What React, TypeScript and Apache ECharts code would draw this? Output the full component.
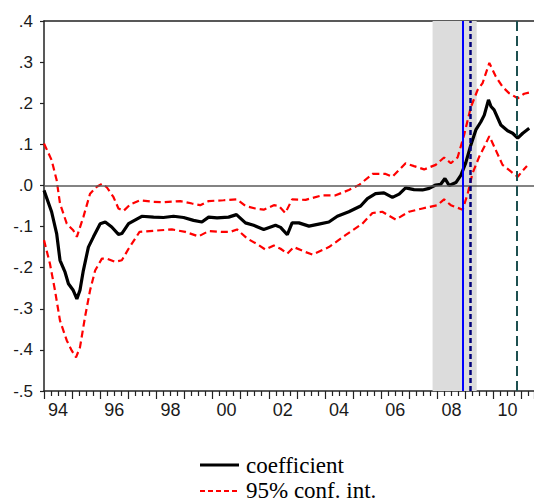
import React, { useEffect, useRef } from 'react';
import * as echarts from 'echarts';

// Decimal-year positions and values
const coefYears = [1994.00,1994.27,1994.45,1994.57,1994.75,1994.87,1995.04,1995.17,1995.28,1995.40,1995.58,1995.76,1996.00,1996.18,1996.41,1996.65,1996.77,1997.01,1997.48,1997.90,1998.25,1998.61,1998.97,1999.32,1999.62,1999.86,2000.16,2000.57,2000.85,2001.17,2001.46,2001.82,2002.24,2002.42,2002.66,2002.83,2003.07,2003.43,2003.78,2004.14,2004.44,2004.85,2005.27,2005.51,2005.80,2006.10,2006.40,2006.64,2006.87,2007.17,2007.47,2007.71,2007.94,2008.12,2008.27,2008.42,2008.66,2008.84,2009.01,2009.19,2009.37,2009.55,2009.67,2009.82,2009.91,2010.02,2010.26,2010.50,2010.68,2010.86,2011.04,2011.27];
const coefValues = [-0.012,-0.064,-0.117,-0.182,-0.211,-0.239,-0.255,-0.276,-0.255,-0.207,-0.150,-0.125,-0.093,-0.089,-0.101,-0.119,-0.117,-0.093,-0.075,-0.077,-0.078,-0.075,-0.078,-0.085,-0.089,-0.077,-0.079,-0.077,-0.071,-0.091,-0.097,-0.107,-0.097,-0.102,-0.120,-0.091,-0.091,-0.099,-0.094,-0.089,-0.075,-0.064,-0.050,-0.032,-0.020,-0.018,-0.029,-0.021,-0.006,-0.010,-0.011,-0.007,0.001,0.003,0.017,0.000,0.007,0.025,0.055,0.098,0.135,0.155,0.171,0.208,0.192,0.184,0.147,0.133,0.127,0.115,0.127,0.139];

const upperYears = [1994.00,1994.27,1994.45,1994.57,1994.81,1995.04,1995.17,1995.40,1995.64,1995.88,1996.07,1996.24,1996.47,1996.65,1996.83,1997.07,1997.42,1997.90,1998.25,1998.85,1999.27,1999.56,1999.86,2000.39,2000.87,2001.17,2001.52,2001.82,2002.18,2002.36,2002.59,2002.83,2003.31,2003.90,2004.38,2004.85,2005.21,2005.69,2006.16,2006.40,2006.87,2007.17,2007.53,2007.94,2008.24,2008.48,2008.72,2008.95,2009.19,2009.43,2009.61,2009.85,2010.08,2010.32,2010.56,2010.86,2011.09,2011.27];
const upperValues = [0.102,0.062,0.013,-0.044,-0.093,-0.109,-0.125,-0.077,-0.020,-0.003,0.004,-0.005,-0.028,-0.056,-0.062,-0.046,-0.036,-0.040,-0.041,-0.038,-0.044,-0.048,-0.038,-0.036,-0.034,-0.050,-0.056,-0.059,-0.048,-0.050,-0.067,-0.034,-0.035,-0.024,-0.024,-0.011,0.001,0.028,0.028,0.021,0.054,0.047,0.039,0.050,0.068,0.054,0.068,0.122,0.190,0.232,0.249,0.298,0.265,0.240,0.224,0.212,0.223,0.226];

const lowerYears = [1994.00,1994.21,1994.39,1994.57,1994.81,1994.99,1995.14,1995.28,1995.46,1995.64,1995.82,1996.06,1996.24,1996.53,1996.77,1997.01,1997.40,1998.14,1998.55,1999.03,1999.50,1999.86,2000.34,2000.63,2000.87,2001.23,2001.59,2001.88,2002.18,2002.42,2002.66,2002.89,2003.31,2003.55,2004.14,2004.73,2005.33,2005.69,2006.04,2006.52,2006.99,2007.47,2008.00,2008.24,2008.48,2008.90,2009.08,2009.25,2009.49,2009.67,2009.85,2010.08,2010.32,2010.56,2010.86,2011.04,2011.19];
const lowerValues = [-0.133,-0.190,-0.255,-0.329,-0.377,-0.402,-0.418,-0.394,-0.320,-0.255,-0.207,-0.178,-0.178,-0.186,-0.182,-0.154,-0.113,-0.109,-0.107,-0.113,-0.124,-0.111,-0.113,-0.113,-0.107,-0.129,-0.143,-0.156,-0.146,-0.154,-0.166,-0.150,-0.162,-0.168,-0.150,-0.121,-0.093,-0.067,-0.064,-0.083,-0.064,-0.056,-0.048,-0.034,-0.048,-0.059,-0.020,0.029,0.070,0.094,0.120,0.086,0.050,0.037,0.021,0.036,0.047];

// Axis labels: two-digit years, centred within each labelled year
const labelYears = [1994, 1996, 1998, 2000, 2002, 2004, 2006, 2008, 2010];
const labelTexts = ['94', '96', '98', '00', '02', '04', '06', '08', '10'];

// Shaded period and reference dates
const shadeStart = 2007.83;
const shadeEnd = 2009.40;
const eventSolid = 2008.91;
const eventDashed = 2009.16;
const eventLongDash = 2010.83;

const legendNames = ['coefficient', '95% conf. int.'];

const zip = (xs: number[], ys: number[]) => xs.map((x, i) => [x, ys[i]]);

const RED = '#ff0000';
const RED_DASH = [7, 4];
const SERIF = "'Liberation Serif', 'Times New Roman', Times, 'DejaVu Serif', serif";
const SANS = "'Liberation Sans', Arial, Helvetica, sans-serif";

export default function App() {
  const ref = useRef<HTMLDivElement>(null);
  useEffect(() => {
    const chart = echarts.init(ref.current!, null, { renderer: 'svg' });
    const xMin = 1994;
    const xMax = 2011.44;
    const legendFont = { font: `23px ${SERIF}`, fontFamily: SERIF, fontSize: 23, fill: '#000' };
    chart.setOption({
      animation: false,
      grid: { left: 44, right: 0, top: 21, bottom: 111, containLabel: false, outerBoundsMode: 'none' },
      graphic: [
        {
          type: 'line',
          shape: { x1: 200, y1: 465, x2: 239, y2: 465 },
          style: { stroke: '#000', lineWidth: 3 },
          silent: true,
        },
        {
          type: 'text',
          x: 246,
          y: 465,
          style: { text: legendNames[0], ...legendFont, verticalAlign: 'middle', align: 'left' },
          silent: true,
        },
        {
          type: 'line',
          shape: { x1: 200, y1: 491, x2: 239, y2: 491 },
          style: { stroke: RED, lineWidth: 2.2, lineDash: [5, 3] },
          silent: true,
        },
        {
          type: 'text',
          x: 246,
          y: 490,
          style: { text: legendNames[1], ...legendFont, verticalAlign: 'middle', align: 'left' },
          silent: true,
        },
      ],
      xAxis: [
        {
          type: 'value',
          min: xMin,
          max: xMax,
          interval: 1,
          axisLine: { show: true, onZero: false, lineStyle: { color: '#222', width: 1.5 } },
          axisTick: { show: true, length: 8, lineStyle: { color: '#222', width: 1.2 } },
          minorTick: { show: true, splitNumber: 4, length: 5, lineStyle: { color: '#222', width: 1.2 } },
          splitLine: { show: false },
          minorSplitLine: { show: false },
          axisLabel: {
            customValues: labelYears.map((y) => y + 0.5),
            formatter: (v: number) => labelTexts[labelYears.indexOf(Math.floor(v))] ?? '',
            fontFamily: SANS,
            fontSize: 18,
            color: '#1a1a1a',
            margin: 10,
          },
        },
        {
          type: 'value',
          position: 'top',
          min: xMin,
          max: xMax,
          interval: 1,
          axisLine: { show: true, onZero: false, lineStyle: { color: '#222', width: 1.5 } },
          axisTick: { show: false },
          axisLabel: { show: false },
          splitLine: { show: false },
        },
      ],
      yAxis: {
        type: 'value',
        min: -0.5,
        max: 0.4,
        interval: 0.1,
        axisLine: { show: true, onZero: false, lineStyle: { color: '#222', width: 1.5 } },
        axisTick: { show: true, length: 4, lineStyle: { color: '#222', width: 1.2 } },
        splitLine: { show: false },
        axisLabel: {
          formatter: (v: number) => v.toFixed(1).replace(/^(-?)0\./, '$1.'),
          fontFamily: SANS,
          fontSize: 17,
          color: '#1a1a1a',
          margin: 11,
        },
      },
      series: [
        {
          name: '_shade',
          type: 'line',
          data: [],
          z: 1,
          silent: true,
          markArea: {
            silent: true,
            itemStyle: { color: '#dcdcdc' },
            data: [[{ xAxis: shadeStart }, { xAxis: shadeEnd }]],
          },
        },
        {
          name: '_lines',
          type: 'line',
          data: [],
          z: 2,
          silent: true,
          markLine: {
            silent: true,
            symbol: 'none',
            label: { show: false },
            animation: false,
            data: [
              { yAxis: 0, lineStyle: { color: '#5a5a5a', width: 1.5, type: 'solid' } },
              { xAxis: eventSolid, lineStyle: { color: '#0000ff', width: 2, type: 'solid' } },
              { xAxis: eventDashed, lineStyle: { color: '#00007a', width: 2.5, type: [5, 3] } },
              { xAxis: eventLongDash, lineStyle: { color: '#1d5050', width: 2, type: [10, 5] } },
            ],
          },
        },
        {
          name: '95% conf. int.',
          type: 'line',
          data: zip(upperYears, upperValues),
          showSymbol: false,
          symbol: 'none',
          z: 3,
          lineStyle: { color: RED, width: 2.2, type: RED_DASH },
          itemStyle: { color: RED },
        },
        {
          name: '95% conf. int.',
          type: 'line',
          data: zip(lowerYears, lowerValues),
          showSymbol: false,
          symbol: 'none',
          z: 3,
          lineStyle: { color: RED, width: 2.2, type: RED_DASH },
          itemStyle: { color: RED },
        },
        {
          name: 'coefficient',
          type: 'line',
          data: zip(coefYears, coefValues),
          showSymbol: false,
          symbol: 'none',
          z: 4,
          lineStyle: { color: '#000', width: 3.2 },
          itemStyle: { color: '#000' },
        },
      ],
    });
    return () => chart.dispose();
  }, []);
  return (
    <div
      ref={ref}
      style={{ position: 'absolute', left: 0, top: 0, width: 534, height: 502 }}
    />
  );
}
